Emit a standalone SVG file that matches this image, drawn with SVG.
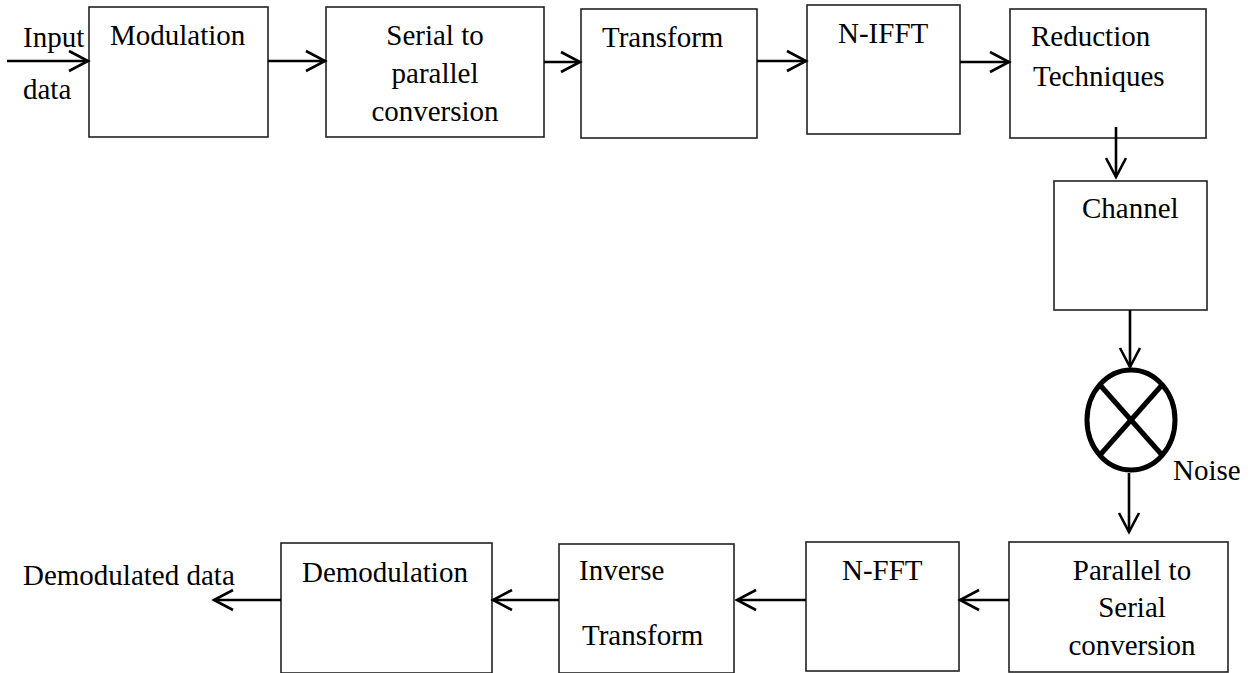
<svg xmlns="http://www.w3.org/2000/svg" width="1255" height="673" viewBox="0 0 1255 673" font-family="Liberation Serif, Times New Roman, serif">
  <style>
    .box { fill: #ffffff; stroke: #222222; stroke-width: 1.6; }
    text { font-family: "Times New Roman", "Liberation Serif", serif; font-size: 29px; fill: #000000; }
    .mid { text-anchor: middle; }
    .wire { fill: none; stroke: #000000; stroke-width: 2.6; marker-end: url(#chev); }
  </style>
  <defs>
    <marker id="chev" markerUnits="userSpaceOnUse" viewBox="-22 -12 24 24" refX="0" refY="0" markerWidth="24" markerHeight="24" orient="auto" overflow="visible">
      <path d="M-19,-10 L0,0 L-19,10" fill="none" stroke="#000000" stroke-width="2.6" stroke-linejoin="miter"/>
    </marker>
  </defs>
  <rect width="1255" height="673" fill="#ffffff"/>

  <!-- transmitter chain -->
  <g id="modulation">
    <rect class="box" x="89" y="7" width="179" height="130"/>
    <text x="110" y="45">Modulation</text>
  </g>
  <g id="serial-to-parallel">
    <rect class="box" x="326" y="7" width="218" height="130"/>
    <text class="mid" x="435" y="45">Serial to</text>
    <text class="mid" x="435" y="83">parallel</text>
    <text class="mid" x="435" y="121">conversion</text>
  </g>
  <g id="transform">
    <rect class="box" x="581" y="9" width="176" height="129"/>
    <text x="602" y="47">Transform</text>
  </g>
  <g id="n-ifft">
    <rect class="box" x="807" y="5" width="153" height="129"/>
    <text x="838" y="43">N-IFFT</text>
  </g>
  <g id="reduction">
    <rect class="box" x="1010" y="9" width="196" height="129"/>
    <text x="1031" y="46">Reduction</text>
    <text x="1033" y="86">Techniques</text>
  </g>
  <g id="channel">
    <rect class="box" x="1054" y="181" width="153" height="129"/>
    <text x="1082" y="218">Channel</text>
  </g>
  <g id="noise-mixer">
    <ellipse cx="1131" cy="420" rx="44" ry="50" fill="#ffffff" stroke="#000000" stroke-width="5"/>
    <line x1="1100" y1="385" x2="1162" y2="455" stroke="#000000" stroke-width="5"/>
    <line x1="1162" y1="385" x2="1100" y2="455" stroke="#000000" stroke-width="5"/>
    <text x="1173" y="480">Noise</text>
  </g>

  <!-- receiver chain -->
  <g id="parallel-to-serial">
    <rect class="box" x="1009" y="542" width="219" height="130"/>
    <text class="mid" x="1132" y="580">Parallel to</text>
    <text class="mid" x="1132" y="617">Serial</text>
    <text class="mid" x="1132" y="655">conversion</text>
  </g>
  <g id="n-fft">
    <rect class="box" x="806" y="542" width="153" height="129"/>
    <text x="842" y="580">N-FFT</text>
  </g>
  <g id="inverse-transform">
    <rect class="box" x="559" y="544" width="175" height="129"/>
    <text x="579" y="580">Inverse</text>
    <text x="582" y="645">Transform</text>
  </g>
  <g id="demodulation">
    <rect class="box" x="281" y="543" width="211" height="130"/>
    <text x="302" y="582">Demodulation</text>
  </g>

  <!-- end labels -->
  <g id="input-data">
    <text x="23" y="47">Input</text>
    <text x="23" y="99">data</text>
  </g>
  <g id="demodulated-data">
    <text x="23" y="585">Demodulated data</text>
  </g>

  <!-- signal flow -->
  <g id="connectors">
    <line class="wire" x1="7" y1="61" x2="88" y2="61"/>
    <line class="wire" x1="268" y1="61" x2="325" y2="61"/>
    <line class="wire" x1="544" y1="62" x2="580" y2="62"/>
    <line class="wire" x1="757" y1="61" x2="806" y2="61"/>
    <line class="wire" x1="960" y1="62" x2="1009" y2="62"/>
    <line class="wire" x1="1116" y1="127" x2="1116" y2="177"/>
    <line class="wire" x1="1130" y1="310" x2="1130" y2="367"/>
    <line class="wire" x1="1129" y1="473" x2="1129" y2="532"/>
    <line class="wire" x1="1009" y1="600" x2="960" y2="600"/>
    <line class="wire" x1="806" y1="600" x2="737" y2="600"/>
    <line class="wire" x1="559" y1="600" x2="493" y2="600"/>
    <line class="wire" x1="281" y1="600" x2="214" y2="600"/>
  </g>
</svg>
